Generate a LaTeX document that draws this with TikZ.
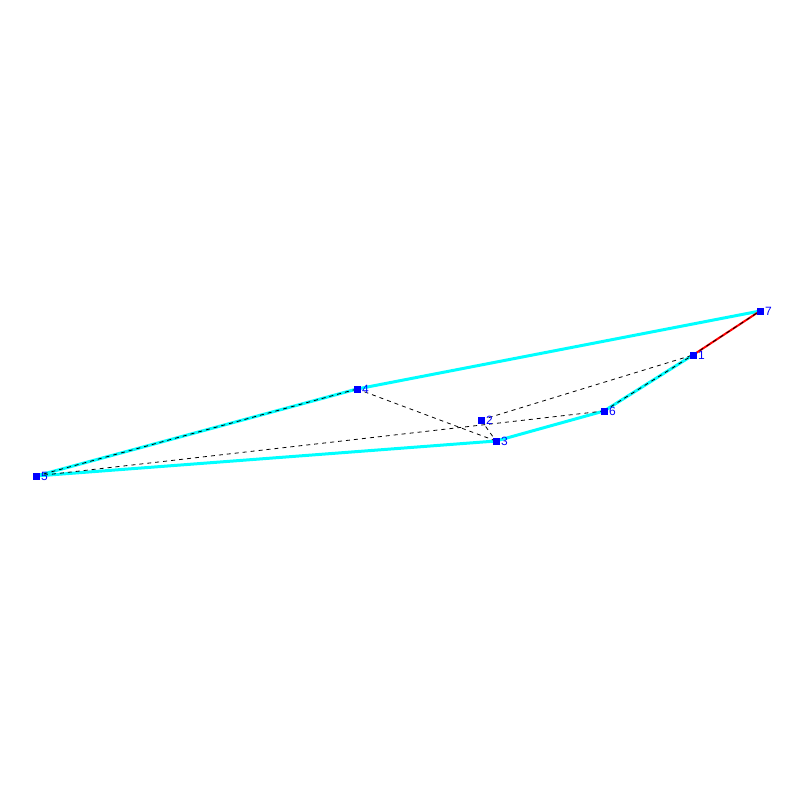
\documentclass[tikz,border=0pt]{standalone}
\usepackage{fontspec}
\setmainfont{Liberation Sans}
\begin{document}
\begin{tikzpicture}[x=1pt,y=-1pt,
  vtx/.style={fill={rgb,255:red,0;green,0;blue,255}, inner sep=0pt, minimum size=7pt, draw=none},
  lbl/.style={text={rgb,255:red,0;green,0;blue,255}, font=\fontsize{12}{12}\selectfont, anchor=west, inner sep=0pt},
  cyanedge/.style={draw={rgb,255:red,0;green,255;blue,255}, line width=3pt},
  rededge/.style={draw={rgb,255:red,255;green,0;blue,0}, line width=2pt},
  dashedge/.style={draw=black, line width=0.8pt, dash pattern=on 4pt off 4pt}]
\useasboundingbox (0,0) rectangle (800,800);
\coordinate (p1) at (693,355);
\coordinate (p2) at (481,420);
\coordinate (p3) at (496,441);
\coordinate (p4) at (357,389);
\coordinate (p5) at (36,476);
\coordinate (p6) at (604,411);
\coordinate (p7) at (760,311);
% solid edges
\draw[cyanedge] (p5) -- (p4);
\draw[cyanedge] (p4) -- (p7);
\draw[cyanedge] (p5) -- (p3);
\draw[cyanedge] (p3) -- (p6);
\draw[cyanedge] (p6) -- (p1);
\draw[rededge] (p1) -- (p7);
% dashed edges
\draw[dashedge] (p5) -- (p4);
\draw[dashedge] (p5) -- (p6);
\draw[dashedge] (p4) -- (p3);
\draw[dashedge] (p2) -- (p1);
\draw[dashedge] (p2) -- (p3);
\draw[dashedge] (p6) -- (p1);
\draw[dashedge] (p1) -- (p7);
% vertices
\foreach \i in {1,...,7} {
  \node[vtx] (n\i) at (p\i) {};
  \node[lbl] (l\i) at ([xshift=5pt]p\i) {\i};
}
\end{tikzpicture}
\end{document}
